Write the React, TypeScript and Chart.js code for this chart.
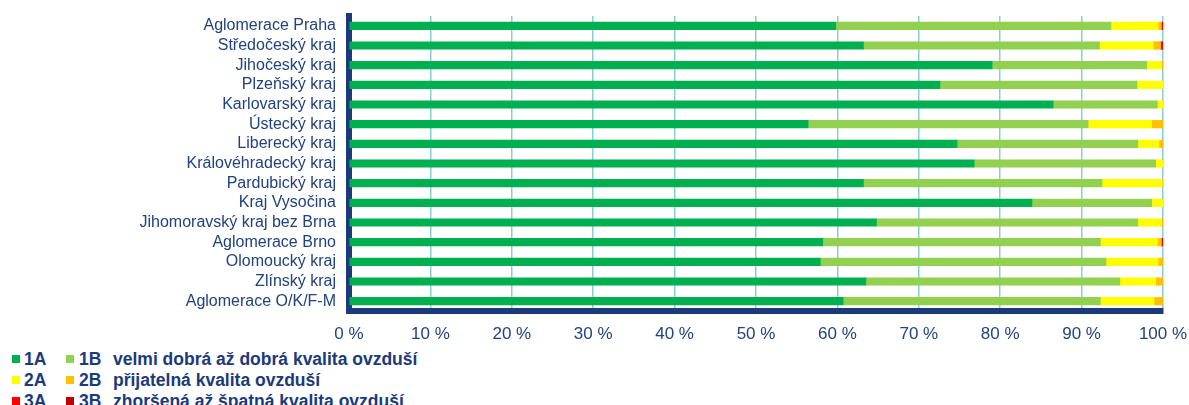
import React, { useEffect, useRef } from "react";
import { Chart, registerables } from "chart.js";

Chart.register(...registerables);

const categories = [
  "Aglomerace Praha",
  "Středočeský kraj",
  "Jihočeský kraj",
  "Plzeňský kraj",
  "Karlovarský kraj",
  "Ústecký kraj",
  "Liberecký kraj",
  "Královéhradecký kraj",
  "Pardubický kraj",
  "Kraj Vysočina",
  "Jihomoravský kraj bez Brna",
  "Aglomerace Brno",
  "Olomoucký kraj",
  "Zlínský kraj",
  "Aglomerace O/K/F-M",
];

const values1A = [59.8, 63.2, 79.0, 72.6, 86.5, 56.4, 74.7, 76.8, 63.2, 83.9, 64.8, 58.2, 57.9, 63.5, 60.7];
const values1B = [33.8, 29.0, 19.0, 24.2, 12.8, 34.4, 22.2, 22.3, 29.3, 14.7, 32.1, 34.1, 35.1, 31.2, 31.6];
const values2A = [5.8, 6.6, 1.8, 3.2, 0.7, 7.8, 2.6, 0.9, 7.4, 1.4, 2.9, 7.0, 6.4, 4.4, 6.6];
const values2B = [0.4, 0.9, 0.2, 0, 0, 1.4, 0.5, 0, 0.1, 0, 0.2, 0.5, 0.6, 0.9, 1.1];
const values3A = [0.2, 0.3, 0, 0, 0, 0, 0, 0, 0, 0, 0, 0.2, 0, 0, 0];
const values3B = [0, 0, 0, 0, 0, 0, 0, 0, 0, 0, 0, 0, 0, 0, 0];

const seriesNames = ["1A", "1B", "2A", "2B", "3A", "3B"];
const seriesColors = ["#00B050", "#92D050", "#FFFF00", "#FFC000", "#FF0000", "#C00000"];
const seriesValues = [values1A, values1B, values2A, values2B, values3A, values3B];

const xTicks = [0, 10, 20, 30, 40, 50, 60, 70, 80, 90, 100];

const legendDescriptions = [
  "velmi dobrá až dobrá kvalita ovzduší",
  "přijatelná kvalita ovzduší",
  "zhoršená až špatná kvalita ovzduší",
];

const NAVY = "#1B3A7C";
const TEXT = "#22427F";
const FONT = "'Liberation Sans', Arial, sans-serif";
const W = 1189;
const H = 345;

export default function App() {
  const canvasRef = useRef<HTMLCanvasElement | null>(null);

  useEffect(() => {
    const canvas = canvasRef.current;
    if (!canvas) return;
    const chart = new Chart(canvas, {
      type: "bar",
      data: {
        labels: categories,
        datasets: seriesNames.map((name, i) => ({
          label: name,
          data: seriesValues[i],
          backgroundColor: seriesColors[i],
          borderWidth: 0,
          barThickness: 7.5,
        })),
      },
      options: {
        indexAxis: "y",
        animation: false,
        responsive: false,
        devicePixelRatio: 1,
        layout: { padding: { top: 16, right: 26, left: 0, bottom: 0 } },
        plugins: {
          legend: { display: false },
          tooltip: { enabled: false },
          title: { display: false },
        },
        scales: {
          x: {
            stacked: true,
            min: 0,
            max: 100,
            afterFit: (scale: any) => {
              scale.height = H - 311;
            },
            afterBuildTicks: (scale: any) => {
              scale.ticks = xTicks.map((v) => ({ value: v }));
            },
            grid: {
              display: true,
              color: "#86CEDA",
              lineWidth: 1.5,
              drawTicks: true,
              tickLength: 13,
              tickColor: "rgba(0,0,0,0)",
            },
            border: { display: true, color: NAVY, width: 6 },
            ticks: {
              padding: 0,
              color: TEXT,
              font: { family: FONT, size: 17 },
              callback: (v: any) => `${v} %`,
              maxRotation: 0,
            },
          },
          y: {
            stacked: true,
            afterFit: (scale: any) => {
              scale.width = 349;
            },
            grid: {
              display: true,
              drawOnChartArea: false,
              drawTicks: true,
              tickLength: 13,
              tickColor: "rgba(0,0,0,0)",
            },
            border: { display: true, color: NAVY, width: 6 },
            ticks: {
              autoSkip: false,
              padding: 0,
              color: TEXT,
              font: { family: FONT, size: 16 },
            },
          },
        },
      },
    });
    return () => chart.destroy();
  }, []);

  const rowCenters = [359, 380, 401];
  const textStyle: React.CSSProperties = {
    position: "absolute",
    fontFamily: FONT,
    fontWeight: "bold",
    fontSize: 17.5,
    lineHeight: "20px",
    color: NAVY,
    whiteSpace: "nowrap",
  };

  return (
    <div
      style={{
        position: "absolute",
        left: 0,
        top: 0,
        width: W,
        height: 405,
        overflow: "hidden",
        background: "#ffffff",
      }}
    >
      <canvas
        ref={canvasRef}
        width={W}
        height={H}
        style={{ position: "absolute", left: 0, top: 0, width: W, height: H }}
      />
      {legendDescriptions.map((desc, r) => {
        const c = rowCenters[r];
        const a = r * 2;
        const b = r * 2 + 1;
        return (
          <React.Fragment key={desc}>
            <div
              style={{
                position: "absolute",
                left: 12,
                top: c - 4,
                width: 8,
                height: 8,
                background: seriesColors[a],
              }}
            />
            <span style={{ ...textStyle, left: 24, top: c - 10 }}>{seriesNames[a]}</span>
            <div
              style={{
                position: "absolute",
                left: 66,
                top: c - 4,
                width: 8,
                height: 8,
                background: seriesColors[b],
              }}
            />
            <span style={{ ...textStyle, left: 79, top: c - 10 }}>{seriesNames[b]}</span>
            <span style={{ ...textStyle, left: 113, top: c - 10 }}>{desc}</span>
          </React.Fragment>
        );
      })}
    </div>
  );
}
